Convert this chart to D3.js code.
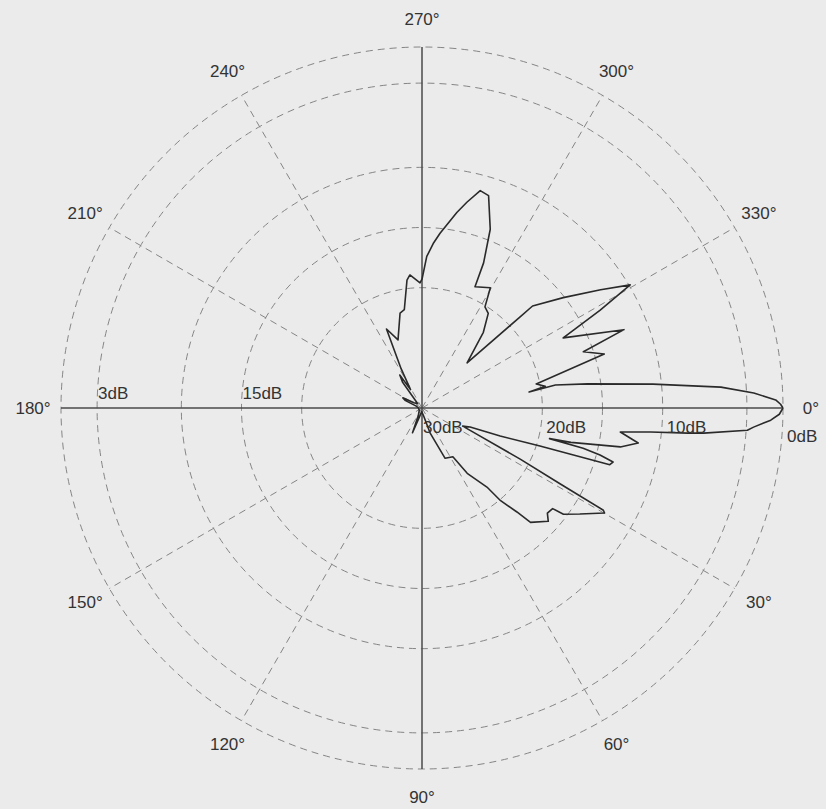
<!DOCTYPE html>
<html>
<head>
<meta charset="utf-8">
<script src="https://cdnjs.cloudflare.com/ajax/libs/d3/7.8.5/d3.min.js"></script>
<style>
body{margin:0;background:#ebebeb;}
svg{display:block;font-family:"Liberation Sans",Arial,sans-serif;}
</style>
</head>
<body>
<svg id="polar"></svg>
<script>
// pattern: angle in degrees (0 right, clockwise), level in dB below peak
var patternAngles = [0,1.0,2.0,3.3,3.9,5.1,5.4,6.0,6.9,9.2,11.1,13.0,13.5,14.0,14.8,15.8,16.8,17.9,19.7,21.6,
    24.0,25.2,27.5,28.8,29.4,29.9,33.9,36.9,37.6,40.0,41.9,46.5,47.6,49.7,50.6,55.3,57.7,65.3,72.0,78.0,
    95.0,106.0,111.0,116.0,140.0,180.0,198.0,204.0,208.0,213.0,225.0,233.0,236.0,238.0,242.0,245.8,250.6,257.0,259.8,263.3,
    264.8,269.1,270.0,271.8,273.9,275.9,280.1,282.3,285.0,287.4,290.9,293.0,293.6,299.6,301.9,305.0,309.0,315.0,317.1,317.3,
    322.0,326.5,329.4,331.2,333.6,338.8,340.8,343.5,348.1,350.0,351.5,350.2,351.7,354.1,356.0,357.4,358.7,359.4,360];
var patternLevels = [0,0.3,1.0,2.4,2.9,6.5,7.8,10.9,13.4,11.8,13.2,17.3,19.1,16.2,14.7,13.5,13.7,19.7,23.1,25.7,
    26.3,25.3,20.8,16.8,12.7,12.5,14.2,15.3,16.3,16.4,15.9,16.9,18.3,19.9,21.5,23.4,25.2,25.4,27.8,29.3,
    29.7,29.2,27.8,29.3,29.7,29.7,29.5,28.5,28.2,29.2,29.5,27.3,26.7,28.2,26.3,22.8,24.0,21.9,21.7,19.3,
    18.9,19.6,19.3,17.4,16.3,15.4,13.5,12.5,11.3,11.5,14.1,16.9,19.0,18.5,20.1,20.4,21.9,24.7,18.9,17.5,
    15.1,12.2,9.9,13.1,16.9,12.0,15.8,14.2,20.3,19.6,21.0,18.75,16.1,10.7,5.1,2.4,0.6,0.2,0];

var ringLevels = [20,15,10,3,0];
var spokeAngles = [30,60,120,150,210,240,300,330];
var angleTicks = [0,30,60,90,120,150,180,210,240,270,300,330];
var leftLevelLabels = [3,15];
var rightLevelLabels = [30,20,10,0];

var screen = {width:826, height:809};
var center = {x:422, y:408};

var rScale = d3.scaleLinear()
    .domain([30,0])
    .range([0,361]);

// chart degrees -> d3 radial angle (0 at top, clockwise)
var aScale = d3.scaleLinear()
    .domain([0,360])
    .range([Math.PI/2, Math.PI/2+2*Math.PI]);

var drawGrid = function(g)
{
    g.selectAll(".ring")
        .data(ringLevels)
        .enter()
        .append("circle")
        .classed("ring",true)
        .attr("r",function(d){return rScale(d)})
        .attr("fill","none")
        .attr("stroke","#858585")
        .attr("stroke-width",1)
        .attr("stroke-dasharray","7,5");

    g.selectAll(".spoke")
        .data(spokeAngles)
        .enter()
        .append("line")
        .classed("spoke",true)
        .attr("x1",0)
        .attr("y1",0)
        .attr("x2",function(d){return d3.pointRadial(aScale(d),rScale(0))[0]})
        .attr("y2",function(d){return d3.pointRadial(aScale(d),rScale(0))[1]})
        .attr("stroke","#858585")
        .attr("stroke-width",1)
        .attr("stroke-dasharray","7,5");

    g.selectAll(".axis")
        .data([0,90])
        .enter()
        .append("line")
        .classed("axis",true)
        .attr("x1",function(d){return d3.pointRadial(aScale(d),rScale(0))[0]})
        .attr("y1",function(d){return d3.pointRadial(aScale(d),rScale(0))[1]})
        .attr("x2",function(d){return d3.pointRadial(aScale(d+180),rScale(0))[0]})
        .attr("y2",function(d){return d3.pointRadial(aScale(d+180),rScale(0))[1]})
        .attr("stroke","#4a4a4a")
        .attr("stroke-width",1.5);
}

var drawPattern = function(g)
{
    var points = patternAngles.map(function(a,i){return [a,patternLevels[i]]});

    var lineGenerator = d3.lineRadial()
        .angle(function(p){return aScale(p[0])})
        .radius(function(p){return rScale(p[1])})
        .curve(d3.curveLinear);

    g.append("path")
        .datum(points)
        .attr("d",lineGenerator)
        .attr("fill","none")
        .attr("stroke","#2a2a2a")
        .attr("stroke-width",1.6)
        .attr("stroke-linejoin","round");
}

var drawLabels = function(g)
{
    g.selectAll(".angleLabel")
        .data(angleTicks)
        .enter()
        .append("text")
        .classed("angleLabel",true)
        .attr("x",function(d){return d3.pointRadial(aScale(d),389)[0]})
        .attr("y",function(d){return d3.pointRadial(aScale(d),389)[1]})
        .attr("text-anchor","middle")
        .attr("dominant-baseline","central")
        .attr("font-size",17)
        .attr("fill","#333")
        .text(function(d){return d+"°"});

    g.selectAll(".leftLabel")
        .data(leftLevelLabels)
        .enter()
        .append("text")
        .classed("leftLabel",true)
        .attr("x",function(d){return -rScale(d)+1})
        .attr("y",-9)
        .attr("font-size",17)
        .attr("fill","#333")
        .text(function(d){return d+"dB"});

    g.selectAll(".rightLabel")
        .data(rightLevelLabels)
        .enter()
        .append("text")
        .classed("rightLabel",true)
        .attr("x",function(d){return rScale(d)+(d==30?1:4)})
        .attr("y",function(d){return d==0?34:25})
        .attr("font-size",17)
        .attr("fill","#333")
        .text(function(d){return d+"dB"});
}

var displayPolar = function(target)
{
    var svg = d3.select(target)
        .attr("width",screen.width)
        .attr("height",screen.height);

    svg.append("rect")
        .attr("width",screen.width)
        .attr("height",screen.height)
        .attr("fill","#ebebeb");

    var g = svg.append("g")
        .attr("transform","translate("+center.x+","+center.y+")");

    drawGrid(g);
    drawPattern(g);
    drawLabels(g);
}

displayPolar("#polar");
</script>
</body>
</html>
